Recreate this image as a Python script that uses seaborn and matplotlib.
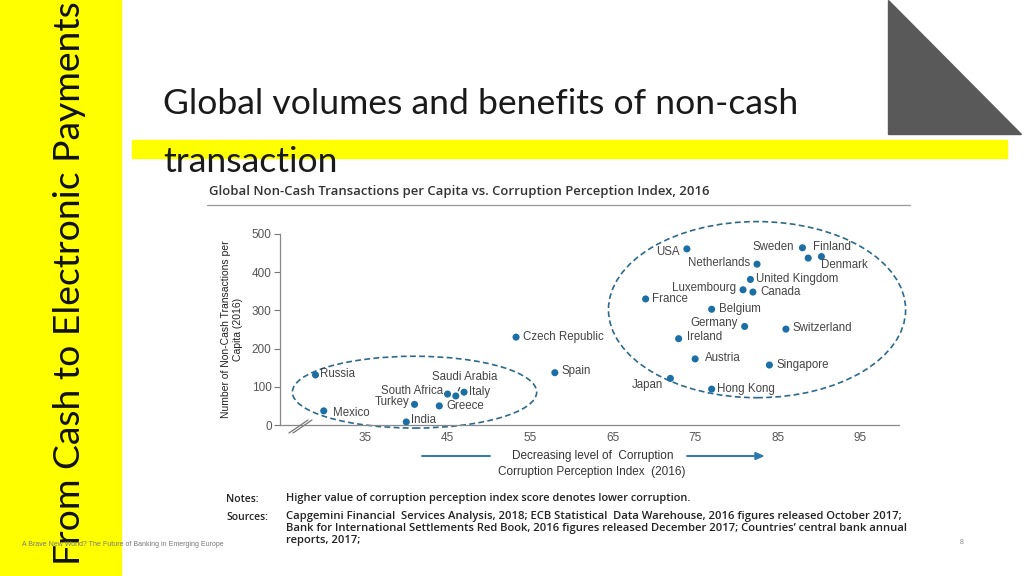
import matplotlib
matplotlib.use("Agg")
import matplotlib.pyplot as plt
import seaborn as sns
import pandas as pd
from matplotlib.patches import Ellipse, Polygon, Rectangle
from matplotlib.lines import Line2D

# ---------------- data ----------------
countries = ["Russia", "Mexico", "India", "Turkey", "Greece", "South Africa",
             "Saudi Arabia", "Italy", "Czech Republic", "Spain", "USA", "Sweden",
             "Finland", "Denmark", "Netherlands", "United Kingdom", "Luxembourg",
             "Canada", "France", "Belgium", "Germany", "Switzerland", "Ireland",
             "Austria", "Singapore", "Japan", "Hong Kong"]
cpi = [29, 30, 40, 41, 44, 45, 46, 47, 53.3, 58, 74, 88, 88.7, 90.3, 82.5,
       81.7, 80.8, 82, 69, 77, 81, 86, 73, 75, 84, 72, 77]
txn = [131, 37, 8, 54, 50, 81, 76, 86, 230, 137, 461, 464, 437, 441, 421,
       381, 354, 348, 330, 303, 258, 251, 226, 173, 157, 122, 94]
x_ticks = [35, 45, 55, 65, 75, 85, 95]
y_ticks = [0, 100, 200, 300, 400, 500]
# cluster ellipses (centre x, centre y, width, height) in data units
low_cluster = (41.0, 86, 29.6, 188)
high_cluster = (82.5, 302, 36.0, 461)

# label offsets (pixels, dx, dy-up, alignment)
label_pos = {
    "Russia": (5, 1, "left"), "Mexico": (9, -2, "left"), "India": (5, 2, "left"),
    "Turkey": (-5, 2, "right"), "Greece": (7, 0, "left"),
    "South Africa": (-4, 3, "right"), "Saudi Arabia": (9, 19, "center"),
    "Italy": (5, 0, "left"), "Czech Republic": (7, 0, "left"),
    "Spain": (7, 2, "left"), "USA": (-7, -3, "right"), "Sweden": (-8, 1, "right"),
    "Finland": (5, 11, "left"), "Denmark": (0, -8, "left"),
    "Netherlands": (-7, 1, "right"), "United Kingdom": (6, 0, "left"),
    "Luxembourg": (-7, 2, "right"), "Canada": (7, 0, "left"),
    "France": (6, 0, "left"), "Belgium": (7, 0, "left"),
    "Germany": (-7, 3, "right"), "Switzerland": (7, 1, "left"),
    "Ireland": (8, 2, "left"), "Austria": (10, 1, "left"),
    "Singapore": (7, 0, "left"), "Japan": (-7, -7, "right"),
    "Hong Kong": (5, 0, "left"),
}

df = pd.DataFrame({"country": countries, "cpi": cpi, "txn": txn})

# ---------------- style ----------------
sns.set_theme(style="white")
plt.rcParams["font.family"] = ["Liberation Sans", "DejaVu Sans"]

W, H = 1024, 576
fig = plt.figure(figsize=(W / 100, H / 100), dpi=100)
fig.patch.set_facecolor("white")


def fx(x):
    return x / W


def fy(y):
    return 1 - y / H


YELLOW = "#FFFF00"
DOT = "#1b6fa5"
ELL = "#2c6a8c"
GREY_TXT = "#444444"
TITLE_FONT = ["Lato", "DejaVu Sans"]

# left yellow bar and horizontal band
fig.add_artist(Rectangle((0, 0), fx(121), 1, transform=fig.transFigure,
                         color=YELLOW, zorder=0))
fig.add_artist(Rectangle((fx(132), fy(158)), fx(1007) - fx(132), fy(140) - fy(158),
                         transform=fig.transFigure, color=YELLOW, zorder=0))
# dark triangle top right
fig.add_artist(Polygon([(fx(888), fy(0)), (fx(888), fy(134)), (fx(1021), fy(134))],
                       closed=True, transform=fig.transFigure, color="#595959", zorder=0))

renderer = fig.canvas.get_renderer()


def fit(t, target, vertical=False):
    bb = t.get_window_extent(renderer)
    cur = bb.height if vertical else bb.width
    t.set_fontsize(t.get_fontsize() * target / cur)


# vertical side title
vt = fig.text(fx(80), fy(565), "From Cash to Electronic Payments", rotation=90,
              rotation_mode="anchor", ha="left", va="baseline", fontsize=24,
              family=TITLE_FONT, color="#111111", zorder=2)
fit(vt, 563, vertical=True)

# slide title
t1 = fig.text(fx(163), fy(114), "Global volumes and benefits of non-cash",
              ha="left", va="baseline", fontsize=20, family=TITLE_FONT,
              color="#1a1a1a", zorder=2)
fit(t1, 635)
t2 = fig.text(fx(163), fy(172), "transaction", ha="left", va="baseline",
              fontsize=t1.get_fontsize(), family=TITLE_FONT,
              color="#1a1a1a", zorder=2)

# chart subtitle + rule
st = fig.text(fx(209), fy(194.5),
              "Global Non-Cash Transactions per Capita vs. Corruption Perception Index, 2016",
              ha="left", va="baseline", fontsize=8.5, fontweight="semibold",
              family=["Open Sans", "DejaVu Sans"], color="#333333")
fit(st, 498)
fig.add_artist(Line2D([fx(207), fx(910)], [fy(205), fy(205)], transform=fig.transFigure,
                      color="#9a9a9a", lw=0.9))

# ---------------- scatter axes ----------------
ax = fig.add_axes([fx(280), fy(425), fx(899) - fx(280), fy(234) - fy(425)])
sns.scatterplot(data=df, x="cpi", y="txn", ax=ax, color=DOT, s=26,
                edgecolor="none", zorder=3, legend=False)
ax.set_xlim(24.7, 99.7)
ax.set_ylim(0, 500)
ax.set_xticks(x_ticks)
ax.set_yticks(y_ticks)
ax.tick_params(axis="x", length=0, pad=5, labelsize=8.5, labelcolor="#555555")
ax.tick_params(axis="y", length=4, width=0.8, color="#777777", pad=2,
               labelsize=8.5, labelcolor="#555555", left=True)
for side in ["top", "right"]:
    ax.spines[side].set_visible(False)
for side in ["left", "bottom"]:
    ax.spines[side].set_color("#888888")
    ax.spines[side].set_linewidth(0.9)
ax.set_xlabel("")
ax.set_ylabel("Number of Non-Cash Transactions per\nCapita (2016)",
              family=["Liberation Sans Narrow", "Liberation Sans"], fontsize=7.5,
              color="#222222", labelpad=6, linespacing=1.25)
ax.set_facecolor("none")

for (cx, cy, w, h) in [low_cluster, high_cluster]:
    ax.add_patch(Ellipse((cx, cy), w, h, fill=False, edgecolor=ELL, lw=1.2,
                         ls=(0, (3.5, 2)), clip_on=False, zorder=2))

for c, xv, yv in zip(countries, cpi, txn):
    dx, dy, ha = label_pos[c]
    kw = {}
    if c == "Saudi Arabia":
        kw["arrowprops"] = dict(arrowstyle="-", color="#333333", lw=0.8,
                                shrinkA=1, shrinkB=4)
    ax.annotate(c, (xv, yv), xytext=(dx * 0.72, dy * 0.72), textcoords="offset points",
                ha=ha, va="center", fontsize=8.3, color=GREY_TXT, zorder=4, **kw)

# axis break marks
for off in (0, 4):
    fig.add_artist(Line2D([fx(289 + off), fx(308 + off)], [fy(433), fy(420)],
                          transform=fig.transFigure, color="#777777", lw=0.9))

# axis caption with arrows
ARW = "#2a7ab0"
fig.add_artist(Line2D([fx(422), fx(490)], [fy(456), fy(456)], transform=fig.transFigure,
                      color=ARW, lw=1.4))
fig.add_artist(Line2D([fx(687), fx(757)], [fy(456), fy(456)], transform=fig.transFigure,
                      color=ARW, lw=1.4))
fig.add_artist(Polygon([(fx(755), fy(452.5)), (fx(763), fy(456)), (fx(755), fy(459.5))],
                       closed=True, transform=fig.transFigure, color=ARW))
fig.text(fx(593), fy(456), "Decreasing level of  Corruption", ha="center", va="center",
         fontsize=8.5, color="#333333")
fig.text(fx(592), fy(472), "Corruption Perception Index  (2016)", ha="center",
         va="center", fontsize=8.5, color="#333333")

# notes & sources
NF = ["Open Sans", "DejaVu Sans"]
fig.text(fx(226), fy(499), "Notes:", ha="left", va="center", fontsize=7.5,
         family=NF, fontweight="semibold", color="#222222")
fig.text(fx(226), fy(517), "Sources:", ha="left", va="center", fontsize=7.5,
         family=NF, fontweight="semibold", color="#222222")
n1 = fig.text(fx(286), fy(499),
              "Higher value of corruption perception index score denotes lower corruption.",
              ha="left", va="center", fontsize=7.5, family=NF, fontweight="semibold",
              color="#222222")
fit(n1, 407)
src = ["Capgemini Financial  Services Analysis, 2018; ECB Statistical  Data Warehouse, 2016 figures released October 2017;",
       "Bank for International Settlements Red Book, 2016 figures released December 2017; Countries\u2019 central bank annual",
       "reports, 2017;"]
s0 = fig.text(fx(286), fy(517), src[0], ha="left", va="center", fontsize=7.5,
              family=NF, fontweight="semibold", color="#222222")
fit(s0, 620)
for i, yy in ((1, 529), (2, 541)):
    fig.text(fx(286), fy(yy), src[i], ha="left", va="center", fontsize=s0.get_fontsize(),
             family=NF, fontweight="semibold", color="#222222")

# footer
fig.text(fx(22), fy(544), "A Brave New World? The Future of Banking in Emerging Europe",
         ha="left", va="center", fontsize=5, color="#777777", zorder=3)
fig.text(fx(962), fy(543), "8", ha="center", va="center", fontsize=5, color="#888888")

fig.savefig("out.png", dpi=100)
